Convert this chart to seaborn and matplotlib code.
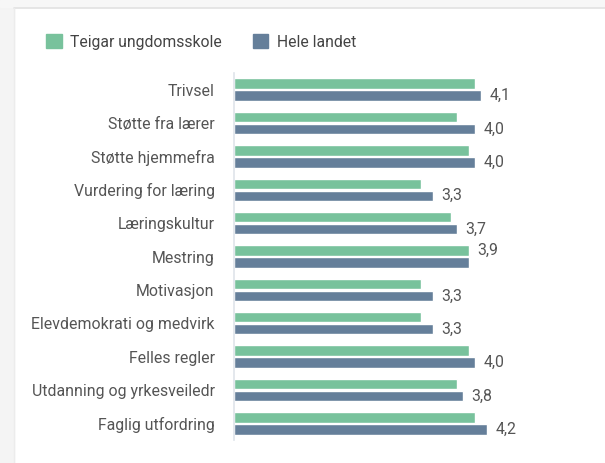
import numpy as np, pandas as pd
import matplotlib as mpl; mpl.use("Agg")
import matplotlib.pyplot as plt
from matplotlib.patches import Patch, Rectangle
from matplotlib.lines import Line2D
import seaborn as sns

# data (Elevundersøkelsen, Teigar vs. national average)
KATEGORIER=["Trivsel","Støtte fra lærer","Støtte hjemmefra","Vurdering for læring","Læringskultur",
            "Mestring","Motivasjon","Elevdemokrati og medvirk","Felles regler",
            "Utdanning og yrkesveiledr","Faglig utfordring"]
TEIGAR=[4.0,3.7,3.9,3.1,3.6,3.9,3.1,3.1,3.9,3.7,4.0]
LANDET=[4.1,4.0,4.0,3.3,3.7,3.9,3.3,3.3,4.0,3.8,4.2]
SERIER=["Teigar ungdomsskole","Hele landet"]
GREEN="#78c29c"; BLUE="#657f9a"; TXT="#555555"

sns.set_theme(style="white")
plt.rcParams["font.family"]=["Roboto","DejaVu Sans"]

df=pd.DataFrame({"kategori":KATEGORIER*2,"verdi":TEIGAR+LANDET,
                 "gruppe":[SERIER[0]]*len(KATEGORIER)+[SERIER[1]]*len(KATEGORIER)})

W,H=605,463
fig=plt.figure(figsize=(W/100,H/100),dpi=100)
# page background around the card
fig.patches.append(Rectangle((0,0),14/W,1,transform=fig.transFigure,color="#f4f4f4",zorder=0))
fig.patches.append(Rectangle((0,1-7/H),1,7/H,transform=fig.transFigure,color="#f7f7f7",zorder=0))
fig.lines.append(Line2D([14/W,1],[1-7.5/H,1-7.5/H],transform=fig.transFigure,color="#e2e2e2",lw=1.2))
fig.lines.append(Line2D([14/W,14/W],[0,1-7.5/H],transform=fig.transFigure,color="#ececec",lw=1))

ax=fig.add_axes([234/W,1-440/H,301/W,367/H])
sns.barplot(data=df,y="kategori",x="verdi",hue="gruppe",palette=[GREEN,BLUE],orient="h",
            width=0.72,gap=0.13,saturation=1,legend=False,ax=ax)
ax.set_xlim(0,5); ax.set_ylim(10.5,-0.5)
ax.set_xlabel(""); ax.set_ylabel("")
ax.set_xticks([])
for s in ("top","right","bottom"): ax.spines[s].set_visible(False)
ax.spines["left"].set_color("#dfe4ea"); ax.spines["left"].set_linewidth(1.2)
ax.tick_params(axis="y",length=0,pad=14,labelsize=11.4,labelcolor=TXT)

# value label = national value, placed on the longest bar of each pair
gr,bl=ax.containers[0],ax.containers[1]
lab_g=[f"{b:.1f}".replace(".",",") if g>=b else "" for g,b in zip(TEIGAR,LANDET)]
lab_b=[f"{b:.1f}".replace(".",",") if b>g else "" for g,b in zip(TEIGAR,LANDET)]
ax.bar_label(gr,labels=lab_g,padding=6,fontsize=11.4,color=TXT)
ax.bar_label(bl,labels=lab_b,padding=6,fontsize=11.4,color=TXT)

fig.legend(handles=[Patch(color=GREEN,label=SERIER[0]),Patch(color=BLUE,label=SERIER[1])],
           loc="center left",bbox_to_anchor=(46/W,1-42/H),ncol=2,frameon=False,fontsize=11.3,
           handlelength=1.0,handleheight=1.0,handletextpad=0.55,columnspacing=1.95,
           borderpad=0,borderaxespad=0,labelcolor="#444444")
fig.savefig("out.png",dpi=100)
